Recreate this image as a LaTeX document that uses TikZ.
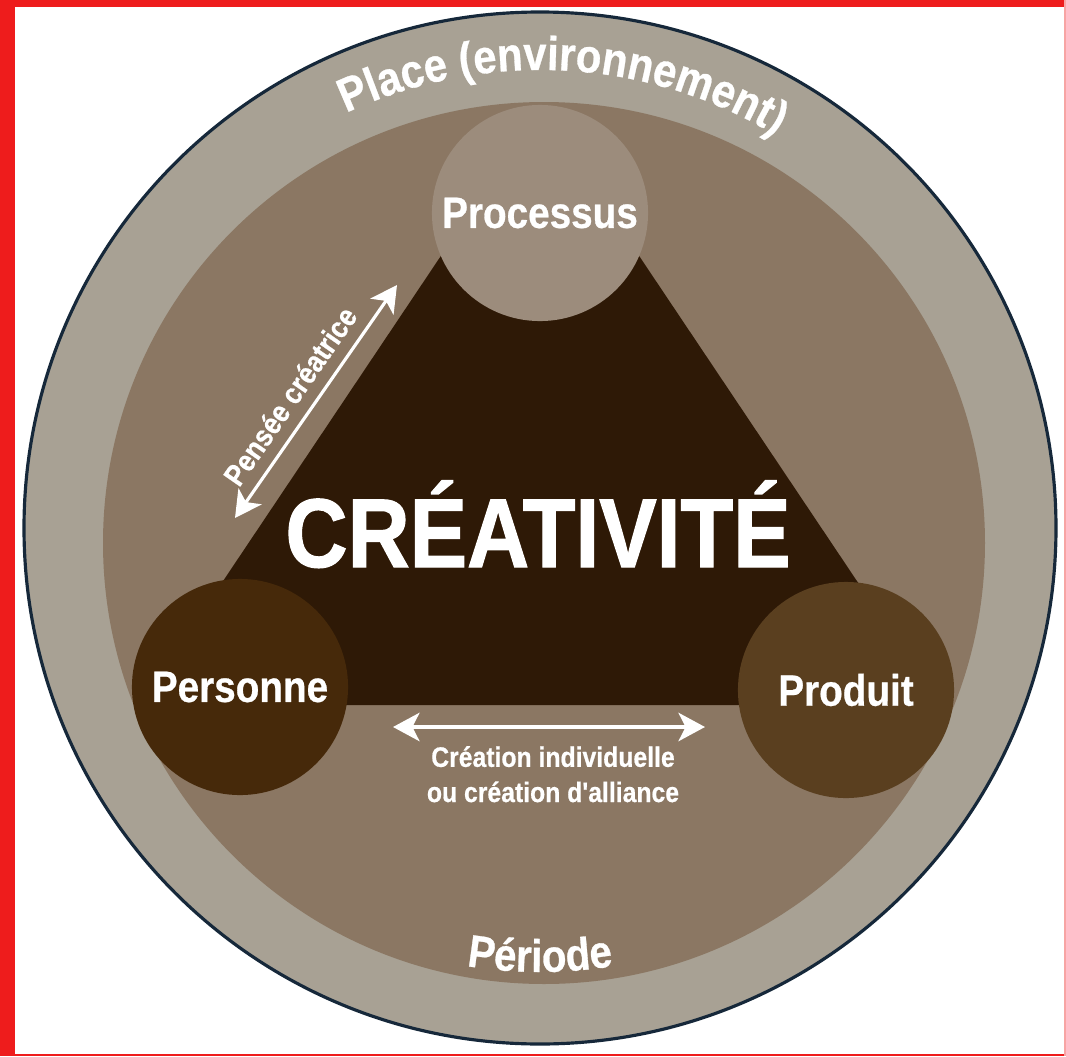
\documentclass[tikz,border=0pt]{standalone}
\usepackage{fontspec}
\setmainfont{Liberation Sans}
\newfontfamily\condfont[FakeStretch=0.88,FakeBold=0.6]{Liberation Sans}
\newfontfamily\titlefont[FakeStretch=0.88,FakeBold=1.2]{Liberation Sans}
\usetikzlibrary{arrows.meta,decorations.text}

\definecolor{ringgray}{RGB}{168,161,148}
\definecolor{innerbrown}{RGB}{139,119,99}
\definecolor{coredark}{RGB}{46,25,6}
\definecolor{procbrown}{RGB}{156,140,124}
\definecolor{persbrown}{RGB}{70,41,10}
\definecolor{prodbrown}{RGB}{90,63,31}
\definecolor{rimnavy}{RGB}{22,40,58}
\definecolor{framered}{RGB}{238,28,28}

\begin{document}
\begin{tikzpicture}[x=0.01cm,y=0.01cm,
    pole/.style={circle,minimum size=2.16cm,inner sep=0pt,text=white,
      font=\condfont\bfseries\fontsize{12.5}{14}\selectfont},
    whitearrow/.style={white,{Stealth[length=7.5pt,width=8pt,inset=2pt]}-{Stealth[length=7.5pt,width=8pt,inset=2pt]}},
    smalltext/.style={text=white,font=\condfont\bfseries\fontsize{8}{10}\selectfont}]
    \useasboundingbox (0,0) rectangle (1066,1056);
    % Frame
    \fill[white] (0,0) rectangle (1066,1056);
    \fill[framered] (0,0) rectangle (15,1056);
    \fill[framered] (0,1049) rectangle (1066,1056);
    \fill[framered] (0,0) rectangle (1066,2);
    \fill[framered!40] (1064,0) rectangle (1066,1056);
    % Outer ring and inner disk
    \fill[ringgray] (540,528) circle(516);
    \draw[rimnavy,line width=0.9pt] (540,528) circle(516);
    \fill[innerbrown] (544,513) circle(441);
    % Central triangle
    \coordinate (apex) at (540,948);
    \coordinate (left) at (140,351);
    \coordinate (right) at (940,351);
    \fill[coredark] (apex) -- (left) -- (right) -- cycle;
    % The three poles
    \node[pole,fill=procbrown] (proc) at (540,843) {Processus};
    \node[pole,fill=persbrown] (pers) at (240,369) {Personne};
    \node[pole,fill=prodbrown] (prod) at (846,366) {Produit};
    % Title
    \node[text=white,font=\titlefont\bfseries\fontsize{27.8}{30}\selectfont,anchor=base] (crea) at (538,489) {CRÉATIVITÉ};
    % Bottom arrow
    \coordinate (hl) at (393,329);
    \coordinate (hr) at (705,329);
    \draw[whitearrow,line width=1.3pt] (hl) -- (hr);
    \node[smalltext,align=center,anchor=base] (alli) at (553,254) {Création individuelle\\ou création d'alliance};
    % Slanted arrow
    \coordinate (dl) at (235,538);
    \coordinate (du) at (397,771);
    \draw[whitearrow,line width=0.9pt] (dl) -- (du);
    \node[smalltext,rotate=55.2,font=\condfont\bfseries\fontsize{8.5}{10}\selectfont] (pense) at (290,660) {Pensée créatrice};
    % Ring labels
    \path[decorate,decoration={text along path,text align=center,text color=white,
      text={|\condfont\bfseries\fontsize{13.5}{15}\selectfont|Place (environnement)}}]
      (540,528) ++(147:458) arc[start angle=147,end angle=27,radius=458];
    \path[decorate,decoration={text along path,text align=center,text color=white,
      text={|\condfont\bfseries\fontsize{13}{15}\selectfont|Période}}]
      (540,528) ++(225:444) arc[start angle=225,end angle=315,radius=444];
\end{tikzpicture}
\end{document}
